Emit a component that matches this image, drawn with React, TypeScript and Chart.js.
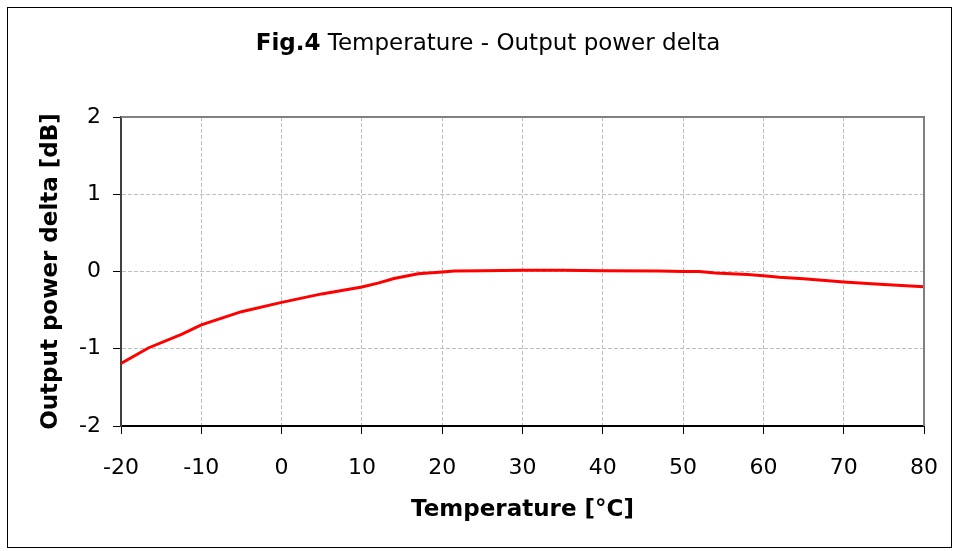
import React, { useEffect, useRef } from "react";
import { Chart, registerables } from "chart.js";

Chart.register(...registerables);

const temperatures = [-20, -16.6, -12.4, -10, -5, 0, 5, 10, 12, 14, 17, 20, 21.5, 25, 30, 35, 40, 47, 50, 52, 54, 58, 60, 62, 65, 70, 75, 80];
const powerDelta = [-1.19, -0.99, -0.81, -0.69, -0.52, -0.4, -0.29, -0.2, -0.15, -0.09, -0.03, -0.005, 0.005, 0.01, 0.015, 0.015, 0.01, 0.006, 0, 0, -0.02, -0.04, -0.055, -0.075, -0.095, -0.136, -0.167, -0.197];

const titleBold = "Fig.4";
const titleRest = " Temperature - Output power delta";
const xTitle = "Temperature [°C]";
const yTitle = "Output power delta [dB]";

const FONT = "'DejaVu Sans', sans-serif";

const framePlugin = {
  id: "frame",
  afterDraw(chart: any) {
    const ctx = chart.ctx;
    const a = chart.chartArea;
    ctx.save();
    ctx.strokeStyle = "#808080";
    ctx.lineWidth = 2;
    ctx.beginPath();
    ctx.moveTo(a.left, a.top);
    ctx.lineTo(a.right, a.top);
    ctx.lineTo(a.right, a.bottom);
    ctx.stroke();
    ctx.strokeStyle = "#000";
    ctx.lineWidth = 1;
    ctx.strokeRect(7.5, 7.5, 944, 540);
    ctx.fillStyle = "#000";
    ctx.textBaseline = "middle";
    const boldFont = `bold 23px ${FONT}`;
    const normFont = `23px ${FONT}`;
    ctx.font = boldFont;
    const w1 = ctx.measureText(titleBold).width;
    ctx.font = normFont;
    const w2 = ctx.measureText(titleRest).width;
    const cx = 488;
    const x0 = cx - (w1 + w2) / 2;
    ctx.font = boldFont;
    ctx.textAlign = "left";
    ctx.fillText(titleBold, x0, 44);
    ctx.font = normFont;
    ctx.fillText(titleRest, x0 + w1, 44);
    ctx.restore();
  },
};

export default function App() {
  const ref = useRef<HTMLCanvasElement | null>(null);
  useEffect(() => {
    if (!ref.current) return;
    const gridOpts = { color: "#c0c0c0", lineWidth: 1, tickLength: 8, tickColor: "#000", tickBorderDash: [], tickWidth: 1 };
    const chart = new Chart(ref.current, {
      type: "line",
      data: {
        datasets: [
          {
            data: temperatures.map((t, i) => ({ x: t, y: powerDelta[i] })),
            borderColor: "#ff0000",
            borderWidth: 3,
            pointRadius: 0,
            tension: 0,
            fill: false,
          },
        ],
      },
      options: {
        animation: false,
        responsive: false,
        devicePixelRatio: 1,
        layout: { padding: { top: 117, right: 33, left: 0, bottom: 0 } },
        plugins: { legend: { display: false }, title: { display: false }, tooltip: { enabled: false } },
        scales: {
          x: {
            type: "linear",
            min: -20,
            max: 80,
            afterFit: (s: any) => { s.height = 125; s.paddingLeft = 0; s.paddingRight = 0; },
            ticks: { stepSize: 10, color: "#000", font: { family: FONT, size: 22 }, padding: 21, maxRotation: 0 },
            grid: gridOpts,
            border: { color: "#000", width: 2, dash: [4, 2] },
            title: { display: true, text: xTitle, color: "#000", font: { family: FONT, size: 23, weight: "bold" }, padding: { top: 0, bottom: 27 } },
          },
          y: {
            min: -2,
            max: 2,
            afterFit: (s: any) => { s.width = 121; s.paddingTop = 0; s.paddingBottom = 0; },
            ticks: { stepSize: 1, color: "#000", font: { family: FONT, size: 22 }, padding: 12 },
            grid: gridOpts,
            border: { color: "#404040", width: 2, dash: [4, 2] },
            title: { display: true, text: yTitle, color: "#000", font: { family: FONT, size: 23, weight: "bold" }, padding: { top: 37, bottom: 0 } },
          },
        },
      } as any,
      plugins: [framePlugin],
    });
    return () => chart.destroy();
  }, []);
  return (
    <div style={{ position: "absolute", left: 0, top: 0, width: 957, height: 551, background: "#fff" }}>
      <canvas ref={ref} width={957} height={551} style={{ display: "block" }} />
    </div>
  );
}
